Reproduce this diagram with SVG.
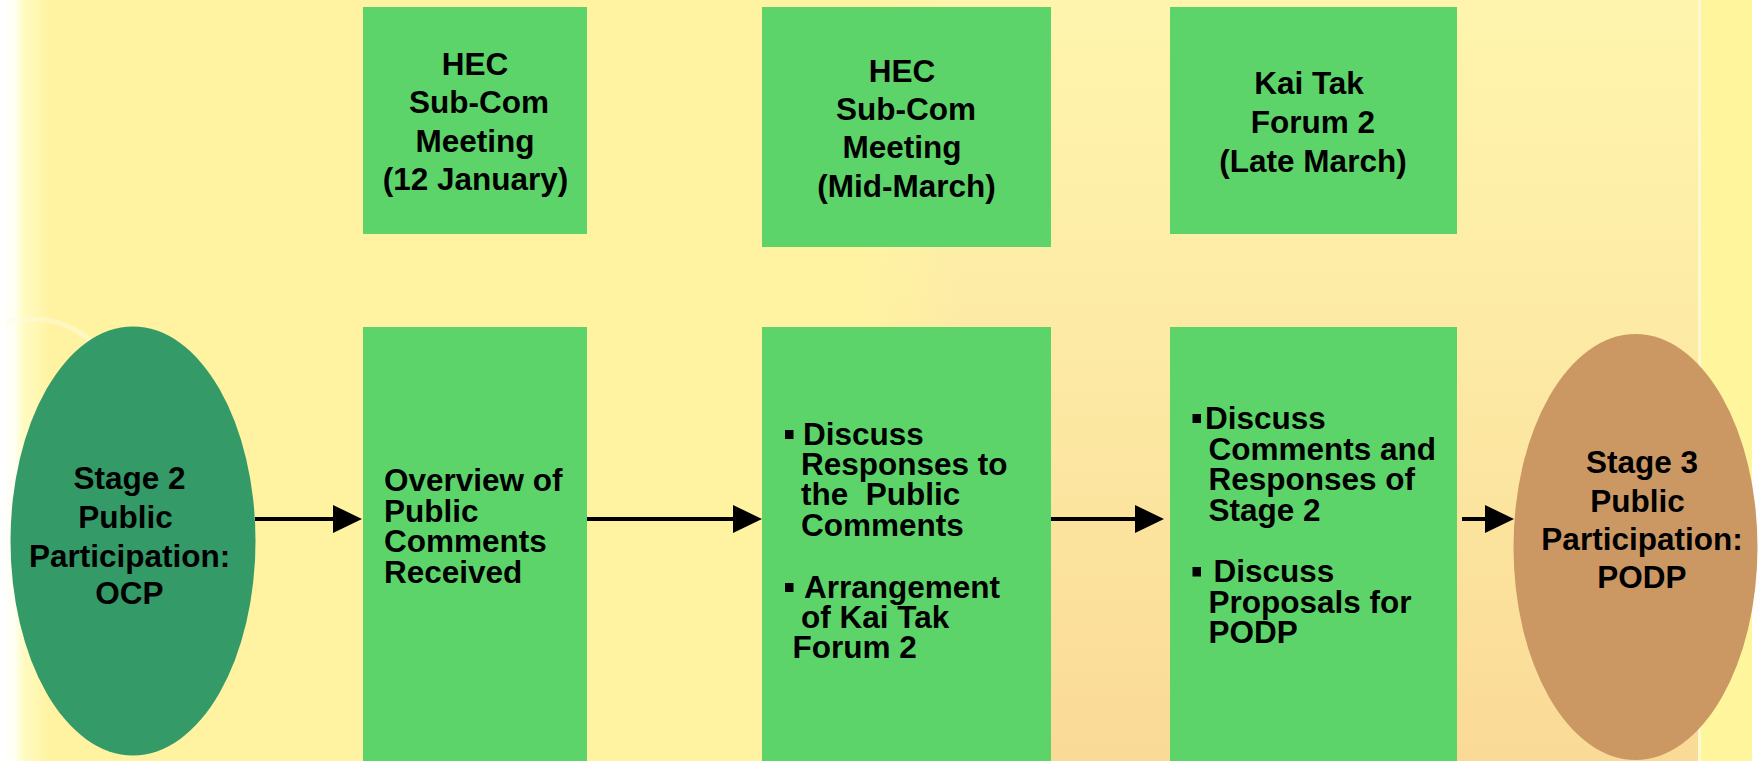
<svg xmlns="http://www.w3.org/2000/svg" width="1762" height="761" viewBox="0 0 1762 761">
  <defs>
    <style>
      .box { fill: #5DD46A; }
      .t { font-family: "Liberation Sans", Arial, sans-serif; font-weight: bold; font-size: 31.5px; fill: #000; }
      .c { text-anchor: middle; }
      .bul { fill: #000; }
      .conn { stroke: #000; stroke-width: 4; fill: none; marker-end: url(#head); }
    </style>
    <marker id="head" markerUnits="userSpaceOnUse" markerWidth="30" markerHeight="30" viewBox="0 -15 30 30" refX="0" refY="0" orient="auto">
      <path d="M0,-14 L29,0 L0,14 Z" fill="#000"/>
    </marker>
    <linearGradient id="cityFade" x1="0" y1="0" x2="0" y2="1">
      <stop offset="0" stop-color="#FFF6B8" stop-opacity="0.5"/>
      <stop offset="0.45" stop-color="#FBE3A6" stop-opacity="0.55"/>
      <stop offset="1" stop-color="#F6C98E" stop-opacity="0.6"/>
    </linearGradient>
    <linearGradient id="cityFadeX" x1="0" y1="0" x2="1" y2="0">
      <stop offset="0" stop-color="#FFF3A2" stop-opacity="1"/>
      <stop offset="0.12" stop-color="#FFF3A2" stop-opacity="0"/>
      <stop offset="1" stop-color="#FFF3A2" stop-opacity="0"/>
    </linearGradient>
    <linearGradient id="leftEdge" x1="0" y1="0" x2="1" y2="0">
      <stop offset="0" stop-color="#FFFFFF"/>
      <stop offset="0.3" stop-color="#FFFFF4"/>
      <stop offset="0.45" stop-color="#FFFBC4"/>
      <stop offset="1" stop-color="#FFF3A2"/>
    </linearGradient>
  </defs>

  <!-- background -->
  <g id="background">
    <rect x="0" y="0" width="1762" height="761" fill="#FFF3A2"/>
    <rect x="0" y="0" width="50" height="761" fill="url(#leftEdge)"/>
    <rect x="860" y="0" width="840" height="761" fill="url(#cityFade)"/>
    <rect x="860" y="0" width="840" height="761" fill="url(#cityFadeX)"/>
    <rect x="1700" y="0" width="52" height="761" fill="#FFF59C"/>
    <rect x="1698" y="0" width="3" height="761" fill="#FFF8D0"/>
    <rect x="1752" y="0" width="10" height="761" fill="#FFFFFF"/>
    <path d="M6,322 Q60,310 95,345" stroke="#FFFCE0" stroke-width="5" fill="none" opacity="0.5"/>
  </g>

  <!-- connectors -->
  <g id="connectors">
    <line class="conn" x1="255" y1="519" x2="333" y2="519"/>
    <line class="conn" x1="587" y1="519" x2="733" y2="519"/>
    <line class="conn" x1="1051" y1="519" x2="1135" y2="519"/>
    <line class="conn" x1="1462" y1="519" x2="1485" y2="519"/>
  </g>

  <!-- top row -->
  <g id="hec-jan">
    <rect class="box" x="363" y="7" width="224" height="227"/>
    <text class="t c" x="475" y="75">HEC</text>
    <text class="t c" x="479" y="113">Sub-Com</text>
    <text class="t c" x="475" y="151.5">Meeting</text>
    <text class="t c" x="475.5" y="190">(12 January)</text>
  </g>
  <g id="hec-mar">
    <rect class="box" x="762" y="7" width="289" height="240"/>
    <text class="t c" x="902" y="82">HEC</text>
    <text class="t c" x="906" y="120">Sub-Com</text>
    <text class="t c" x="902" y="158">Meeting</text>
    <text class="t c" x="906.5" y="196.5">(Mid-March)</text>
  </g>
  <g id="forum2">
    <rect class="box" x="1170" y="7" width="287" height="227"/>
    <text class="t c" x="1309" y="94">Kai Tak</text>
    <text class="t c" x="1313" y="132.5">Forum 2</text>
    <text class="t c" x="1313" y="171.5">(Late March)</text>
  </g>

  <!-- bottom row -->
  <g id="stage2">
    <ellipse cx="133" cy="541" rx="122.5" ry="214.5" fill="#349A67"/>
    <text class="t c" x="129.5" y="489">Stage 2</text>
    <text class="t c" x="125.5" y="527.5">Public</text>
    <text class="t c" x="129.7" y="566.5">Participation:</text>
    <text class="t c" x="129.5" y="604">OCP</text>
  </g>
  <g id="overview">
    <rect class="box" x="363" y="327" width="224" height="440"/>
    <text class="t" x="384" y="490.5">Overview of</text>
    <text class="t" x="384" y="521.5">Public</text>
    <text class="t" x="384" y="552">Comments</text>
    <text class="t" x="384" y="582.5">Received</text>
  </g>
  <g id="discuss-responses">
    <rect class="box" x="762" y="327" width="289" height="440"/>
    <rect class="bul" x="785" y="430" width="8.5" height="9"/>
    <text class="t" x="803" y="445">Discuss</text>
    <text class="t" x="801" y="475">Responses to</text>
    <text class="t" x="801" y="505" xml:space="preserve">the  Public</text>
    <text class="t" x="801" y="536">Comments</text>
    <rect class="bul" x="785" y="583" width="8.5" height="9"/>
    <text class="t" x="804" y="597.5">Arrangement</text>
    <text class="t" x="801" y="628">of Kai Tak</text>
    <text class="t" x="792.5" y="658">Forum 2</text>
  </g>
  <g id="discuss-comments">
    <rect class="box" x="1170" y="327" width="287" height="440"/>
    <rect class="bul" x="1192.5" y="414" width="8.5" height="9"/>
    <text class="t" x="1205" y="429">Discuss</text>
    <text class="t" x="1208.5" y="460">Comments and</text>
    <text class="t" x="1208.5" y="490">Responses of</text>
    <text class="t" x="1208.5" y="520.5">Stage 2</text>
    <rect class="bul" x="1192.5" y="567" width="8.5" height="9.5"/>
    <text class="t" x="1213.5" y="581.5">Discuss</text>
    <text class="t" x="1208.5" y="612.5">Proposals for</text>
    <text class="t" x="1208.5" y="643">PODP</text>
  </g>
  <g id="stage3">
    <ellipse cx="1635.5" cy="547" rx="122" ry="213" fill="#CB9864"/>
    <text class="t c" x="1642" y="472.5">Stage 3</text>
    <text class="t c" x="1637.5" y="511.5">Public</text>
    <text class="t c" x="1642" y="550">Participation:</text>
    <text class="t c" x="1642" y="587.5">PODP</text>
  </g>
</svg>
